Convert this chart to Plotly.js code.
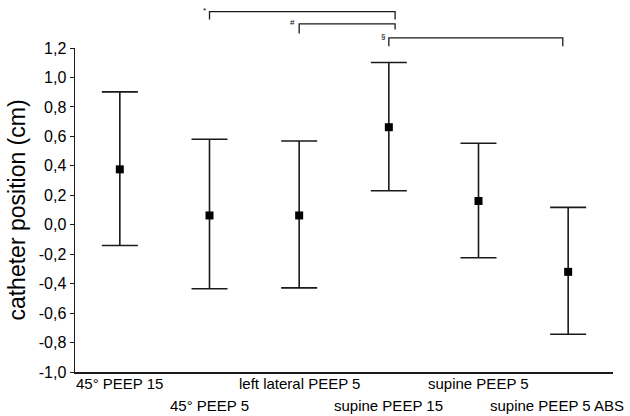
<!DOCTYPE html>
<html>
<head>
<meta charset="utf-8">
<script src="https://cdn.plot.ly/plotly-3.0.1.min.js"></script>
<style>html,body{margin:0;padding:0;background:#fff;}#chart{width:630px;height:416px;}</style>
</head>
<body>
<div id="chart"></div>
<script>
// ---- data ----
var categories = ["45° PEEP 15", "45° PEEP 5", "left lateral PEEP 5", "supine PEEP 15", "supine PEEP 5", "supine PEEP 5 ABS"];
var means = [0.376, 0.063, 0.063, 0.662, 0.161, -0.320];
var upper = [0.902, 0.580, 0.569, 1.102, 0.553, 0.118];
var lower = [-0.141, -0.435, -0.429, 0.231, -0.224, -0.744];
var yTickVals = [-1.0, -0.8, -0.6, -0.4, -0.2, 0.0, 0.2, 0.4, 0.6, 0.8, 1.0, 1.2];
var yTickText = ["-1,0", "-0,8", "-0,6", "-0,4", "-0,2", "0,0", "0,2", "0,4", "0,6", "0,8", "1,0", "1,2"];
// significance brackets: from category index to category index, symbol
var sigFrom = [1, 2, 3];
var sigTo = [3, 3, 5];
var sigSymbol = ["*", "#", "§"];

var idx = categories.map(function (c, i) { return i; });
var errPlus = means.map(function (m, i) { return upper[i] - m; });
var errMinus = means.map(function (m, i) { return m - lower[i]; });

var trace = {
  type: "scatter", mode: "markers",
  x: idx, y: means,
  marker: { symbol: "square", size: 8, color: "#000" },
  error_y: { type: "data", symmetric: false, array: errPlus, arrayminus: errMinus,
             color: "#1a1a1a", thickness: 1.6, width: 18 },
  hoverinfo: "skip", showlegend: false
};

var annotations = [];
var rowY = [-0.035, -0.103];
categories.forEach(function (c, i) {
  var last = i === categories.length - 1;
  annotations.push({
    xref: "x", yref: "paper", x: i, y: rowY[i % 2],
    text: c, showarrow: false,
    xanchor: last ? "right" : "center", yanchor: "middle",
    xshift: last ? 58 : 0,
    font: { family: "Liberation Sans, Arial, sans-serif", size: 15, color: "#000" }
  });
});

// bracket geometry (paper coords)
var brTop = [1.112, 1.0747, 1.0315];
var brLeftBottom = [1.088, 1.0447, 1.0056];
var brRightBottom = [1.088, 1.057, 1.0056];
var brRightShift = [0.07, 0.07, -0.06];
var shapes = [];
sigFrom.forEach(function (a, k) {
  var b = sigTo[k] + brRightShift[k];
  var path = "M " + a + "," + brLeftBottom[k] + " L " + a + "," + brTop[k] +
             " L " + b + "," + brTop[k] + " L " + b + "," + brRightBottom[k];
  shapes.push({ type: "path", xref: "x", yref: "paper", path: path,
                line: { color: "#1a1a1a", width: 1.3 } });
  annotations.push({
    xref: "x", yref: "paper", x: a, y: brTop[k] + 0.004, text: sigSymbol[k],
    showarrow: false, xanchor: "right", yanchor: "middle", xshift: -2,
    font: { family: "Liberation Sans, Arial, sans-serif", size: 8, color: "#000" }
  });
});

var layout = {
  width: 630, height: 416,
  margin: { l: 75, r: 17, t: 48, b: 44, pad: 0 },
  paper_bgcolor: "#fff", plot_bgcolor: "#fff",
  font: { family: "Liberation Sans, Arial, sans-serif", color: "#000" },
  xaxis: {
    range: [-0.5, 5.5], showline: true, linecolor: "#1a1a1a", linewidth: 1.5,
    showgrid: false, zeroline: false, showticklabels: false, ticks: ""
  },
  yaxis: {
    range: [-1.0, 1.2], showline: true, linecolor: "#1a1a1a", linewidth: 1.5,
    showgrid: false, zeroline: false,
    tickvals: yTickVals, ticktext: yTickText,
    ticks: "outside", ticklen: 4, tickwidth: 1, tickcolor: "#1a1a1a",
    tickfont: { family: "Liberation Sans, Arial, sans-serif", size: 16, color: "#000" },
    title: { text: "catheter position (cm)", standoff: 6,
             font: { family: "Liberation Sans, Arial, sans-serif", size: 23, color: "#000" } }
  },
  shapes: shapes,
  annotations: annotations
};

Plotly.newPlot("chart", [trace], layout, { staticPlot: true, displayModeBar: false });
</script>
</body>
</html>
